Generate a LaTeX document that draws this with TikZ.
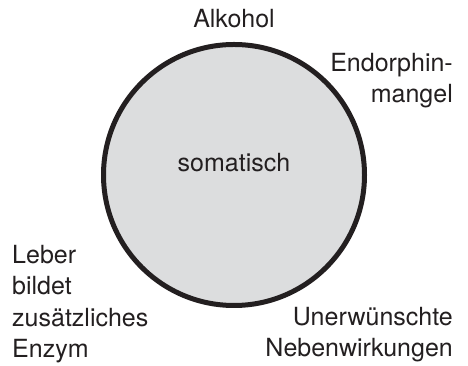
\documentclass[tikz,border=0pt]{standalone}
\usepackage{fontspec}
\setmainfont{TeX Gyre Heros}
\usetikzlibrary{positioning}

\definecolor{ink}{RGB}{35,31,32}
\definecolor{disc}{RGB}{220,221,222}

\begin{document}
\begin{tikzpicture}[x=1pt, y=1pt]

        \def\r{130.5}

        % label style, one per cause
        \tikzset{cause/.style={inner sep=0pt, text=ink,
                font=\fontsize{25}{31.5}\selectfont}}

        \useasboundingbox (0, 0) rectangle (468, 366);

        % the disc itself
        \begin{scope}[shift={(234, 191)}]
            \draw[ink, line width=5pt, fill=disc] (0, 0) circle (\r);
            \node[cause, anchor=base] (S) at (0, 3) {somatisch};
        \end{scope}

        % base of a multi-line label sits on its last line
        \node[cause, anchor=base] (A1) at (234, 338) {Alkohol};
        \node[cause, anchor=base east, align=right] (A2) at (453, 263)
        {Endorphin-\\mangel};
        \node[cause, anchor=base west, align=left] (B1) at (12, 8)
        {Leber\\bildet\\zusätzliches\\Enzym};
        \node[cause, anchor=base east, align=right] (B2) at (453, 9)
        {Unerwünschte\\Nebenwirkungen};

        \end{tikzpicture}
\end{document}
